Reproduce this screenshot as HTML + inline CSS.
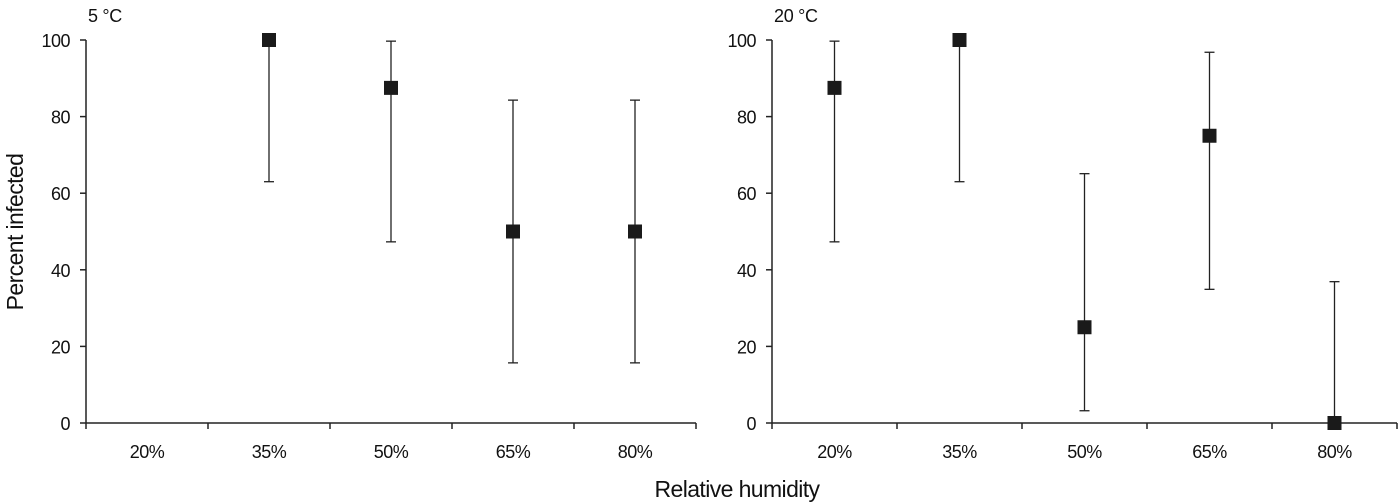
<!DOCTYPE html>
<html><head><meta charset="utf-8"><style>
html,body{margin:0;padding:0;background:#fff;}
svg{display:block;font-family:"Liberation Sans",sans-serif;}
</style></head><body>
<svg id="chart" width="1400" height="504" viewBox="0 0 1400 504" xmlns="http://www.w3.org/2000/svg"></svg>
<script>
const categories = ["20%","35%","50%","65%","80%"];
const yTicks = [0,20,40,60,80,100];
const cold_values = [null,100,87.5,50,50];
const cold_low = [null,63,47.3,15.7,15.7];
const cold_high = [null,100,99.7,84.3,84.3];
const warm_values = [87.5,100,25,75,0];
const warm_low = [47.3,63,3.2,34.9,0];
const warm_high = [99.7,100,65.1,96.8,36.9];

const svg = document.getElementById('chart');
const NS = 'http://www.w3.org/2000/svg';
function mk(tag, attrs, parent){
  const e = document.createElementNS(NS, tag);
  for (const k in attrs) e.setAttribute(k, attrs[k]);
  (parent||svg).appendChild(e);
  return e;
}
const y0 = 423, y100 = 40;
function yScale(v){ return y0 - (v/100)*(y0-y100); }

function panel(name, title, x0, x1, vals, lo, hi){
  const g = mk('g', {});
  
  
  const bw = (x1-x0)/categories.length;
  const xScale = i => x0 + bw*(i+0.5);
  const t = mk('text', {x:x0+2, y:22, 'font-size':18, fill:'#111', transform:'', 'letter-spacing':'-0.3'}, g);
  t.textContent = title;
  
  
  const ya = mk('line', {x1:x0, x2:x0, y1:y100, y2:y0, stroke:'#222', 'stroke-width':1.5}, g);
  
  
  yTicks.forEach(v=>{
    const y = yScale(v);
    mk('line', {x1:x0-6, x2:x0, y1:y, y2:y, stroke:'#222', 'stroke-width':1.5}, g);
    const tl = mk('text', {x:x0-16, y:y+7, 'font-size':18, 'text-anchor':'end', fill:'#111', 'letter-spacing':'-0.5'}, g);
    tl.textContent = v;
    
    
  });
  const xa = mk('line', {x1:x0, x2:x1, y1:y0, y2:y0, stroke:'#222', 'stroke-width':1.5}, g);
  
  
  for (let i=0;i<=categories.length;i++){
    const x = x0 + bw*i;
    mk('line', {x1:x, x2:x, y1:y0, y2:y0+6, stroke:'#222', 'stroke-width':1.5}, g);
  }
  categories.forEach((c,i)=>{
    const tl = mk('text', {x:xScale(i), y:y0+35, 'font-size':18, 'text-anchor':'middle', fill:'#111', 'letter-spacing':'-0.5'}, g);
    tl.textContent = c;
    
    
  });
  vals.forEach((v,i)=>{
    if (v===null) return;
    const x = xScale(i);
    const eb = mk('g', {}, g);
    
    
    mk('line', {x1:x, x2:x, y1:yScale(lo[i]), y2:yScale(hi[i]), stroke:'#222', 'stroke-width':1.3}, eb);
    mk('line', {x1:x-5, x2:x+5, y1:yScale(lo[i]), y2:yScale(lo[i]), stroke:'#222', 'stroke-width':1.3}, eb);
    mk('line', {x1:x-5, x2:x+5, y1:yScale(hi[i]), y2:yScale(hi[i]), stroke:'#222', 'stroke-width':1.3}, eb);
    const p = mk('rect', {x:x-7, y:yScale(v)-7, width:14, height:14, fill:'#1a1a1a'}, g);
    
    
  });
}
panel('panel-5c', '5 °C', 86, 696, cold_values, cold_low, cold_high);
panel('panel-20c', '20 °C', 772, 1397, warm_values, warm_low, warm_high);

const yt = mk('text', {x:0, y:0, 'font-size':23, 'text-anchor':'middle', fill:'#111', 'letter-spacing':'-0.6', transform:'translate(23,232) rotate(-90)'});
yt.textContent = 'Percent infected';


const xt = mk('text', {x:737, y:497, 'font-size':23, 'text-anchor':'middle', fill:'#111', 'letter-spacing':'-0.6'});
xt.textContent = 'Relative humidity';


</script>
</body></html>
